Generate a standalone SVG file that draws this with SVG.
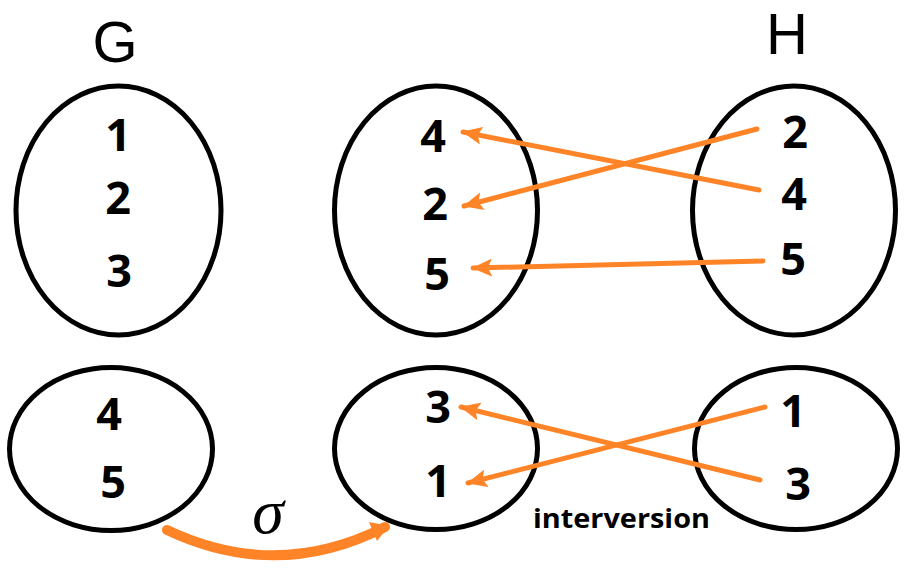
<svg xmlns="http://www.w3.org/2000/svg" width="916" height="570" viewBox="0 0 916 570">
<style>
.set{fill:none;stroke:#000;stroke-width:5}
.num{font-family:"Open Sans","Liberation Sans",sans-serif;font-weight:bold;font-size:45px;text-anchor:middle;fill:#000}
.ttl{font-family:"Liberation Sans",sans-serif;font-size:58px;text-anchor:middle;fill:#000}
.lnk{fill:none;stroke:#FF8427;stroke-width:5;stroke-linecap:round}
</style>
<defs>
<marker id="ah2" markerUnits="userSpaceOnUse" markerWidth="20" markerHeight="18" refX="19" refY="9" orient="auto" viewBox="0 0 20 18">
<path d="M20,9 L0,0 L4,9 L0,18 Z" fill="#FF8427"/>
</marker>
</defs>
<text class="ttl" x="115" y="62">G</text>
<text class="ttl" x="787" y="54">H</text>
<g id="G1"><ellipse class="set" cx="118.5" cy="210.5" rx="102.5" ry="124.5"/>
<text class="num" x="118" y="151">1</text><text class="num" x="118" y="214">2</text><text class="num" x="119" y="287">3</text></g>
<g id="M1"><ellipse class="set" cx="436" cy="210.5" rx="101.5" ry="124.5"/>
<text class="num" x="433" y="152">4</text><text class="num" x="435" y="220">2</text><text class="num" x="437" y="290">5</text></g>
<g id="H1"><ellipse class="set" cx="794" cy="210.5" rx="101.5" ry="124.5"/>
<text class="num" x="795" y="148">2</text><text class="num" x="794" y="210">4</text><text class="num" x="793" y="275">5</text></g>
<g id="G2"><ellipse class="set" cx="111" cy="449" rx="101.5" ry="81.5"/>
<text class="num" x="109" y="430">4</text><text class="num" x="113" y="498">5</text></g>
<g id="M2"><ellipse class="set" cx="436" cy="448.5" rx="101.5" ry="81"/>
<text class="num" x="438" y="423">3</text><text class="num" x="438" y="497">1</text></g>
<g id="H2"><ellipse class="set" cx="796" cy="448.5" rx="101.5" ry="81"/>
<text class="num" x="793" y="427">1</text><text class="num" x="798" y="500">3</text></g>
<g id="connectors">
<path class="lnk" d="M759,190 L463,132" marker-end="url(#ah2)"/>
<path class="lnk" d="M757,129 L464,206" marker-end="url(#ah2)"/>
<path class="lnk" d="M763,261 L473,268" marker-end="url(#ah2)"/>
<path class="lnk" d="M760,480 L461,407" marker-end="url(#ah2)"/>
<path class="lnk" d="M765,407 L468,483" marker-end="url(#ah2)"/>
<path d="M167,530 Q277,582 385,527" fill="none" stroke="#FF8427" stroke-width="10" stroke-linecap="round"/>
<path d="M389,526 L369,522 L377,541 Z" fill="#FF8427"/>
</g>
<text x="268" y="533" font-family="Liberation Serif,serif" font-style="italic" font-size="64" text-anchor="middle" fill="#000">σ</text>
<text x="533" y="528" font-family="Open Sans,Liberation Sans,sans-serif" font-weight="bold" font-size="27" textLength="177" lengthAdjust="spacingAndGlyphs" fill="#000">interversion</text>
</svg>
